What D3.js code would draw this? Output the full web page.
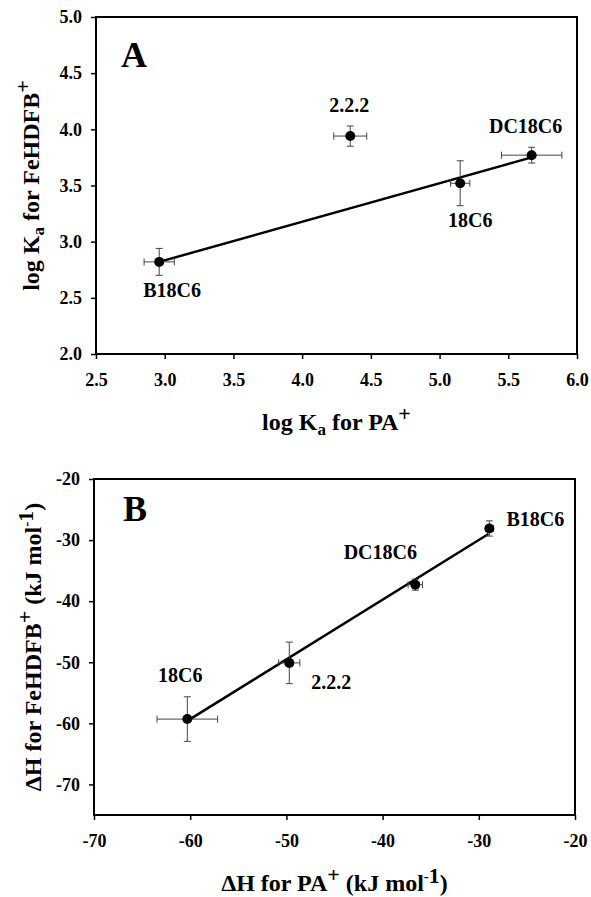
<!DOCTYPE html>
<html>
<head>
<meta charset="utf-8">
<script src="https://cdn.jsdelivr.net/npm/d3@7"></script>
<style>
  body { margin: 0; background: #fff; }
  svg { display: block; font-family: "Liberation Serif", "Times New Roman", serif; font-weight: bold; }
</style>
</head>
<body>
<svg id="chart" width="591" height="897"></svg>
<script>
// ---- data ----
// panel A: log Ka
const crownsA = ["B18C6", "2.2.2", "18C6", "DC18C6"];
const logKaPA = [2.96, 4.35, 5.15, 5.67];
const logKaPAErr = [0.11, 0.12, 0.07, 0.22];
const logKaFe = [2.82, 3.94, 3.52, 3.77];
const logKaFeErr = [0.12, 0.09, 0.20, 0.07];
const fitAx = [2.96, 5.67];
const fitAy = [2.82, 3.75];
const xTicksA = [2.5, 3.0, 3.5, 4.0, 4.5, 5.0, 5.5, 6.0];
const yTicksA = [2.0, 2.5, 3.0, 3.5, 4.0, 4.5, 5.0];

// panel B: delta H (kJ/mol)
const crownsB = ["18C6", "2.2.2", "DC18C6", "B18C6"];
const dHPA = [-60.3, -49.7, -36.6, -28.9];
const dHPAErr = [3.15, 1.1, 0.75, 0.4];
const dHFe = [-59.3, -50.1, -37.3, -28.1];
const dHFeErr = [3.65, 3.4, 0.9, 1.25];
const fitBx = [-60.3, -29.0];
const fitBy = [-59.6, -29.0];
const xTicksB = [-70, -60, -50, -40, -30, -20];
const yTicksB = [-70, -60, -50, -40, -30, -20];

const svg = d3.select("#chart");

function drawPanel(p) {
	let g = svg.append("g").attr("class", "panel-" + p.letter);

	let x = d3.scaleLinear().domain(p.xDomain).range([p.left, p.right]);
	let y = d3.scaleLinear().domain(p.yDomain).range([p.bottom, p.top]);

	// axes (ticks only, frame drawn below)
	g.append("g")
		.attr("transform", "translate(0," + p.bottom + ")")
		.call(d3.axisBottom(x).tickValues(p.xTicks).tickSize(5).tickSizeOuter(0).tickPadding(14).tickFormat(p.fmt));
	g.append("g")
		.attr("transform", "translate(" + p.left + ",0)")
		.call(d3.axisLeft(y).tickValues(p.yTicks).tickSize(5).tickSizeOuter(0).tickPadding(9).tickFormat(p.fmt));
	g.selectAll(".domain").remove();
	g.selectAll(".tick line").attr("stroke", "#000").attr("stroke-width", 1.5);
	g.selectAll(".tick text")
		.attr("fill", "#000")
		.style("font-size", "18px")
		.style("font-family", "'Liberation Serif', 'Times New Roman', serif")
		.style("font-weight", "bold");

	// frame
	g.append("rect")
		.attr("x", p.left)
		.attr("y", p.top)
		.attr("width", p.right - p.left)
		.attr("height", p.bottom - p.top)
		.attr("fill", "none")
		.attr("stroke", "#000")
		.attr("stroke-width", 2);

	// fitted line
	g.append("line")
		.attr("x1", x(p.fitX[0]))
		.attr("y1", y(p.fitY[0]))
		.attr("x2", x(p.fitX[1]))
		.attr("y2", y(p.fitY[1]))
		.attr("stroke", "#000")
		.attr("stroke-width", 2.5);

	let pts = p.names.map((n, i) => ({ name: n, x: p.xs[i], ex: p.xErr[i], y: p.ys[i], ey: p.yErr[i] }));
	let cap = 3.5;

	// error bars
	let eb = g.append("g").attr("stroke", "#444").attr("stroke-width", 1);
	pts.forEach(function (d) {
		let cx = x(d.x), cy = y(d.y);
		let x0 = x(d.x - d.ex), x1 = x(d.x + d.ex);
		let y0 = y(d.y - d.ey), y1 = y(d.y + d.ey);
		eb.append("line").attr("x1", x0).attr("x2", x1).attr("y1", cy).attr("y2", cy);
		eb.append("line").attr("x1", x0).attr("x2", x0).attr("y1", cy - cap).attr("y2", cy + cap);
		eb.append("line").attr("x1", x1).attr("x2", x1).attr("y1", cy - cap).attr("y2", cy + cap);
		eb.append("line").attr("x1", cx).attr("x2", cx).attr("y1", y0).attr("y2", y1);
		eb.append("line").attr("x1", cx - cap).attr("x2", cx + cap).attr("y1", y0).attr("y2", y0);
		eb.append("line").attr("x1", cx - cap).attr("x2", cx + cap).attr("y1", y1).attr("y2", y1);
	});

	// markers
	g.selectAll("circle.pt")
		.data(pts)
		.join("circle")
		.attr("class", "pt")
		.attr("cx", (d) => x(d.x))
		.attr("cy", (d) => y(d.y))
		.attr("r", 5)
		.attr("fill", "#000");

	// point labels
	g.selectAll("text.lbl")
		.data(pts)
		.join("text")
		.attr("class", "lbl")
		.attr("x", (d) => x(d.x) + p.labelPos[d.name][0])
		.attr("y", (d) => y(d.y) + p.labelPos[d.name][1])
		.attr("text-anchor", (d) => p.labelPos[d.name][2])
		.style("font-size", "20px")
		.text((d) => d.name);

	// panel letter
	g.append("text")
		.attr("x", p.left + p.letterPos[0])
		.attr("y", p.top + p.letterPos[1])
		.style("font-size", "36px")
		.text(p.letter);

	// axis titles
	let xt = g.append("text")
		.attr("x", (p.left + p.right) / 2)
		.attr("y", p.xTitleY)
		.attr("text-anchor", "middle")
		.style("font-size", "24px");
	p.xTitle(xt);

	let yt = g.append("text")
		.attr("transform", "translate(" + p.yTitleX + "," + (p.top + p.bottom) / 2 + ") rotate(-90)")
		.attr("text-anchor", "middle")
		.style("font-size", "24px");
	p.yTitle(yt);
}

// helpers for sub/superscripts
function sub(t, s) { t.append("tspan").attr("baseline-shift", "-5").style("font-size", "17px").text(s); }
function sup(t, s) { t.append("tspan").attr("baseline-shift", "9").style("font-size", "22px").text(s); }
function supInv(t) {
	t.append("tspan").attr("baseline-shift", "10").style("font-size", "15px").text("-");
	t.append("tspan").attr("baseline-shift", "8").style("font-size", "22px").text("1");
}
function plain(t, s) { t.append("tspan").text(s); }

drawPanel({
	letter: "A",
	left: 96, right: 577, top: 17, bottom: 354,
	xDomain: [2.5, 6.0], yDomain: [2.0, 5.0],
	xTicks: xTicksA, yTicks: yTicksA,
	fmt: d3.format(".1f"),
	names: crownsA, xs: logKaPA, xErr: logKaPAErr, ys: logKaFe, yErr: logKaFeErr,
	fitX: fitAx, fitY: fitAy,
	labelPos: {
		"B18C6": [-16, 35, "start"],
		"2.2.2": [-1, -24, "middle"],
		"18C6": [10, 44, "middle"],
		"DC18C6": [-6, -22, "middle"]
	},
	letterPos: [25, 50],
	xTitleY: 430,
	yTitleX: 39,
	xTitle: function (t) { plain(t, "log K"); sub(t, "a"); plain(t, " for PA"); sup(t, "+"); },
	yTitle: function (t) { plain(t, "log K"); sub(t, "a"); plain(t, " for FeHDFB"); sup(t, "+"); }
});

drawPanel({
	letter: "B",
	left: 94, right: 575, top: 479, bottom: 815,
	xDomain: [-70, -20], yDomain: [-75, -20],
	xTicks: xTicksB, yTicks: yTicksB,
	fmt: (d) => String(d),
	names: crownsB, xs: dHPA, xErr: dHPAErr, ys: dHFe, yErr: dHFeErr,
	fitX: fitBx, fitY: fitBy,
	labelPos: {
		"18C6": [-7, -37, "middle"],
		"2.2.2": [22, 26, "start"],
		"DC18C6": [-35, -26, "middle"],
		"B18C6": [17, -2, "start"]
	},
	letterPos: [29, 42],
	xTitleY: 891,
	yTitleX: 41,
	xTitle: function (t) { plain(t, "\u0394H for PA"); sup(t, "+"); plain(t, " (kJ mol"); supInv(t); plain(t, ")"); },
	yTitle: function (t) { plain(t, "\u0394H for FeHDFB"); sup(t, "+"); plain(t, " (kJ mol"); supInv(t); plain(t, ")"); }
});
</script>
</body>
</html>
